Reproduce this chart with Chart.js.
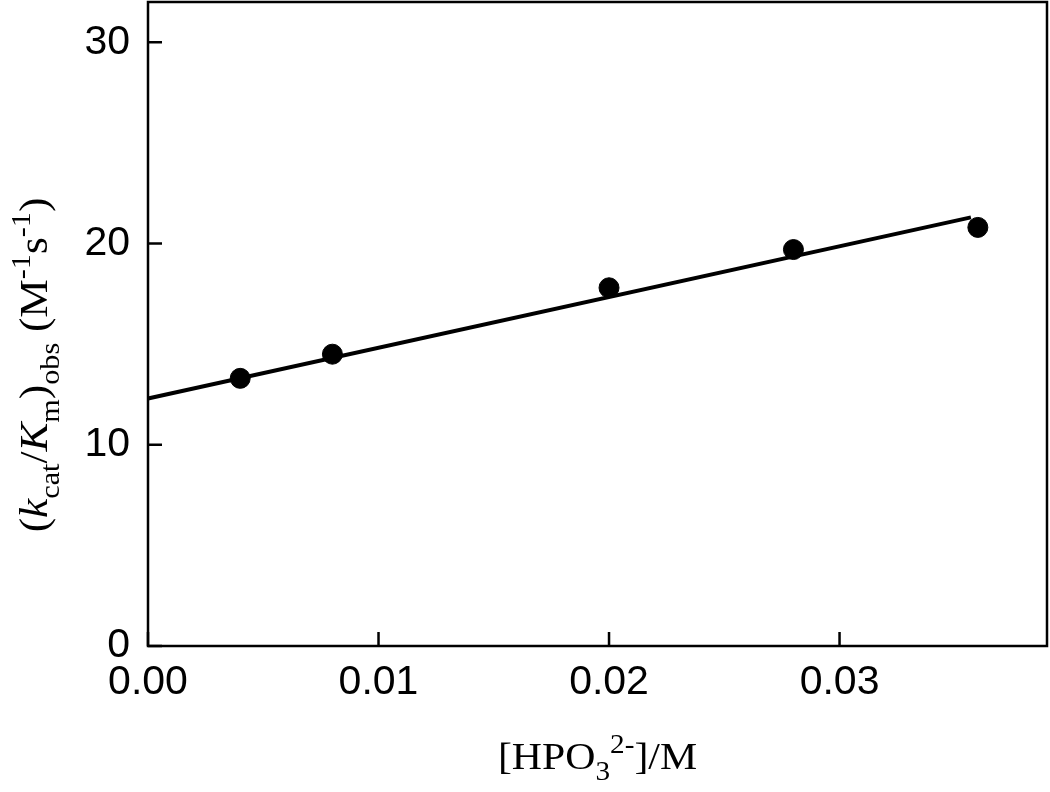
<!DOCTYPE html>
<html>
<head>
    <title>kcat/Km vs HPO3</title>
    <script src="https://cdn.jsdelivr.net/npm/chart.js"></script>
    <style>
        body { margin: 0; background-color: #ffffff; }
        #wrap { width: 1050px; height: 792px; position: relative; }
    </style>
</head>
<body>
    <div id="wrap"><canvas id="rate-chart"></canvas></div>
<script>
    // data
    var hpoConc = [0.004, 0.008, 0.020, 0.028, 0.036];
    var kObs = [13.3, 14.5, 17.8, 19.7, 20.8];
    // fitted line, drawn between these end points
    var fitX = [0.0, 0.0357];
    var fitY = [12.3, 21.3];
    var yTicks = [0, 10, 20, 30];
    var xTicks = [0.00, 0.01, 0.02, 0.03];

    var pts = hpoConc.map(function (x, i) { return { x: x, y: kObs[i] }; });
    var fit = fitX.map(function (x, i) { return { x: x, y: fitY[i] }; });

    var tickFont = { family: 'Liberation Sans, Arial, sans-serif', size: 41 };
    var serif = 'Liberation Serif, Times New Roman, serif';

    // text runs for the axis titles (sub/superscripts)
    var xTitle = [
        { t: '[HPO' }, { t: '3', pos: 'sub' }, { t: '2-', pos: 'sup' }, { t: ']/M' }
    ];
    var yTitle = [
        { t: '(' }, { t: 'k', it: true }, { t: 'cat', pos: 'sub' }, { t: '/' },
        { t: 'K', it: true }, { t: 'm', pos: 'sub' }, { t: ')' }, { t: 'obs', pos: 'sub' },
        { t: ' (M' }, { t: '-1', pos: 'sup' }, { t: 's' }, { t: '-1', pos: 'sup' }, { t: ')' }
    ];

    function runFont(r, size) {
        var s = r.pos ? size * 0.7 : size;
        return (r.it ? 'italic ' : '') + s + 'px ' + serif;
    }
    function runsWidth(ctx, runs, size) {
        var w = 0;
        runs.forEach(function (r) { ctx.font = runFont(r, size); w += ctx.measureText(r.t).width; });
        return w;
    }
    function drawRuns(ctx, runs, size, x, y) {
        runs.forEach(function (r) {
            ctx.font = runFont(r, size);
            var dy = 0;
            if (r.pos === 'sub') dy = size * 0.3;
            if (r.pos === 'sup') dy = -size * 0.42;
            ctx.fillText(r.t, x, y + dy);
            x += ctx.measureText(r.t).width;
        });
    }

    var framePlugin = {
        id: 'frame',
        afterDraw: function (chart) {
            var ctx = chart.ctx, a = chart.chartArea;
            var xs = chart.scales.x, ys = chart.scales.y;
            ctx.save();
            ctx.strokeStyle = '#000';
            ctx.lineWidth = 2.5;
            ctx.strokeRect(a.left, a.top, a.right - a.left, a.bottom - a.top);
            // inward tick marks
            xTicks.forEach(function (v) {
                var px = xs.getPixelForValue(v);
                ctx.beginPath(); ctx.moveTo(px, a.bottom); ctx.lineTo(px, a.bottom - 14); ctx.stroke();
            });
            yTicks.forEach(function (v) {
                var py = ys.getPixelForValue(v);
                ctx.beginPath(); ctx.moveTo(a.left, py); ctx.lineTo(a.left + 14, py); ctx.stroke();
            });

            ctx.fillStyle = '#000';
            ctx.textBaseline = 'alphabetic';
            ctx.textAlign = 'left';
            // x title
            ctx.save();
            var cx = (a.left + a.right) / 2;
            ctx.translate(cx, 769);
            ctx.scale(1.1, 1);
            var w = runsWidth(ctx, xTitle, 38);
            drawRuns(ctx, xTitle, 38, -w / 2, 0);
            ctx.restore();
            // y title
            ctx.save();
            ctx.translate(47, 365);
            ctx.rotate(-Math.PI / 2);
            ctx.scale(1.08, 1);
            var w2 = runsWidth(ctx, yTitle, 40);
            drawRuns(ctx, yTitle, 40, -w2 / 2, 0);
            ctx.restore();
            ctx.restore();
        }
    };

    var ctx = document.getElementById('rate-chart').getContext('2d');
    var rateChart = new Chart(ctx, {
        type: 'scatter',
        data: {
            datasets: [{
                label: 'fit',
                data: fit,
                showLine: true,
                borderColor: '#000',
                borderWidth: 4,
                pointRadius: 0,
                clip: false
            }, {
                label: 'data',
                data: pts,
                showLine: false,
                backgroundColor: '#000',
                borderColor: '#000',
                pointRadius: 10,
                pointHoverRadius: 10,
                clip: false
            }]
        },
        options: {
            responsive: true,
            maintainAspectRatio: false,
            animation: false,
            layout: { autoPadding: false, padding: { top: 2, right: 3, left: 0, bottom: 0 } },
            plugins: { legend: { display: false }, tooltip: { enabled: false } },
            scales: {
                x: {
                    type: 'linear',
                    min: 0,
                    max: 0.039,
                    afterFit: function (s) {
                        s.height = 146;
                        s.paddingLeft = 0; s.paddingRight = 0;
                    },
                    afterBuildTicks: function (s) { s.ticks = xTicks.map(function (v) { return { value: v }; }); },
                    grid: { display: false, drawTicks: false },
                    border: { display: false },
                    ticks: {
                        color: '#000',
                        font: tickFont,
                        padding: 12,
                        maxRotation: 0,
                        callback: function (v) { return v.toFixed(2); }
                    }
                },
                y: {
                    type: 'linear',
                    min: 0,
                    max: 32,
                    afterFit: function (s) {
                        s.width = 148;
                        s.paddingTop = 0; s.paddingBottom = 0;
                    },
                    afterBuildTicks: function (s) { s.ticks = yTicks.map(function (v) { return { value: v }; }); },
                    grid: { display: false, drawTicks: false },
                    border: { display: false },
                    ticks: {
                        color: '#000',
                        font: tickFont,
                        padding: 18
                    }
                }
            }
        },
        plugins: [framePlugin]
    });
</script>
</body>
</html>
